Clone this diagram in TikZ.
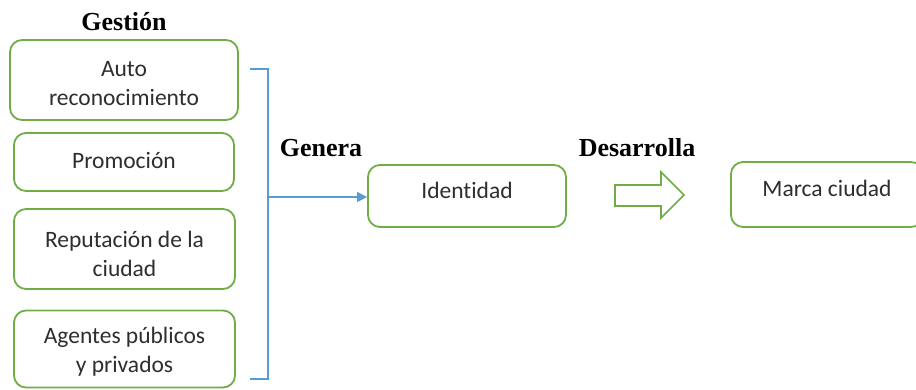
\documentclass[tikz,border=0pt]{standalone}
\usepackage{fontspec}
\setmainfont{Carlito}[Ligatures=NoCommon]
\newfontfamily\titlefont{Liberation Serif}
\usetikzlibrary{arrows.meta}
\definecolor{boxgreen}{HTML}{70AD47}
\definecolor{linkblue}{HTML}{5B9BD5}
\definecolor{bodytext}{HTML}{2E2E2E}
\tikzset{
  box/.style={draw=boxgreen, line width=1.8pt, rounded corners=12pt, fill=white,
    inner sep=0pt},
  label/.style={text=bodytext, font=\fontsize{23.5}{29}\selectfont, align=center, inner sep=0pt},
  heading/.style={font=\titlefont\bfseries\fontsize{26}{30}\selectfont, text=black, inner sep=0pt},
  bracket/.style={draw=linkblue, line width=1.4pt},
}
\begin{document}
\begin{tikzpicture}[x=1pt, y=-1pt]
\useasboundingbox (0,0) rectangle (916,389);
\clip (0,0) rectangle (916,389);

% headings
\node[heading] (gestion) at (124,22) {Gestión};
\node[heading] (genera) at (321,148) {Genera};
\node[heading] (desarrolla) at (637,148) {Desarrolla};

% management factors
\node[box, minimum width=228pt, minimum height=80pt] (auto) at (124,80) {};
\node[label] (autotxt) at (124,84) {Auto\\reconocimiento};
\node[box, minimum width=220pt, minimum height=58pt] (promo) at (124,162) {};
\node[label] (promotxt) at (124,160) {Promoción};
\node[box, minimum width=221pt, minimum height=80pt] (reput) at (124.5,249) {};
\node[label] (reputtxt) at (124.5,254) {Reputación de la\\ciudad};
\node[box, minimum width=221pt, minimum height=77pt] (agentes) at (124.5,349) {};
\node[label] (agentestxt) at (124.5,352) {Agentes públicos\\y privados};

% results
\node[box, minimum width=198pt, minimum height=62pt] (identidad) at (467,196) {};
\node[label] (identxt) at (467,190) {Identidad};
\node[box, minimum width=192pt, minimum height=65pt] (marca) at (827,194.5) {};
\node[label] (marcatxt) at (827,188) {Marca ciudad};

% grouping bracket
\coordinate (btop) at (250,69);
\coordinate (bbot) at (250,379);
\coordinate (bmid) at (268,197);
\draw[bracket] (btop) -- (268,69) -- (268,379) -- (bbot);
\draw[bracket, -{Triangle[length=10pt, width=10pt]}] (bmid) -- (bmid -| identidad.west);

% block arrow
\draw[draw=boxgreen, line width=1.6pt, fill=white, line join=miter]
  (615,185) -- (661,185) -- (661,172) -- (684,195) -- (661,218) -- (661,206) -- (615,206) -- cycle;
\end{tikzpicture}
\end{document}
